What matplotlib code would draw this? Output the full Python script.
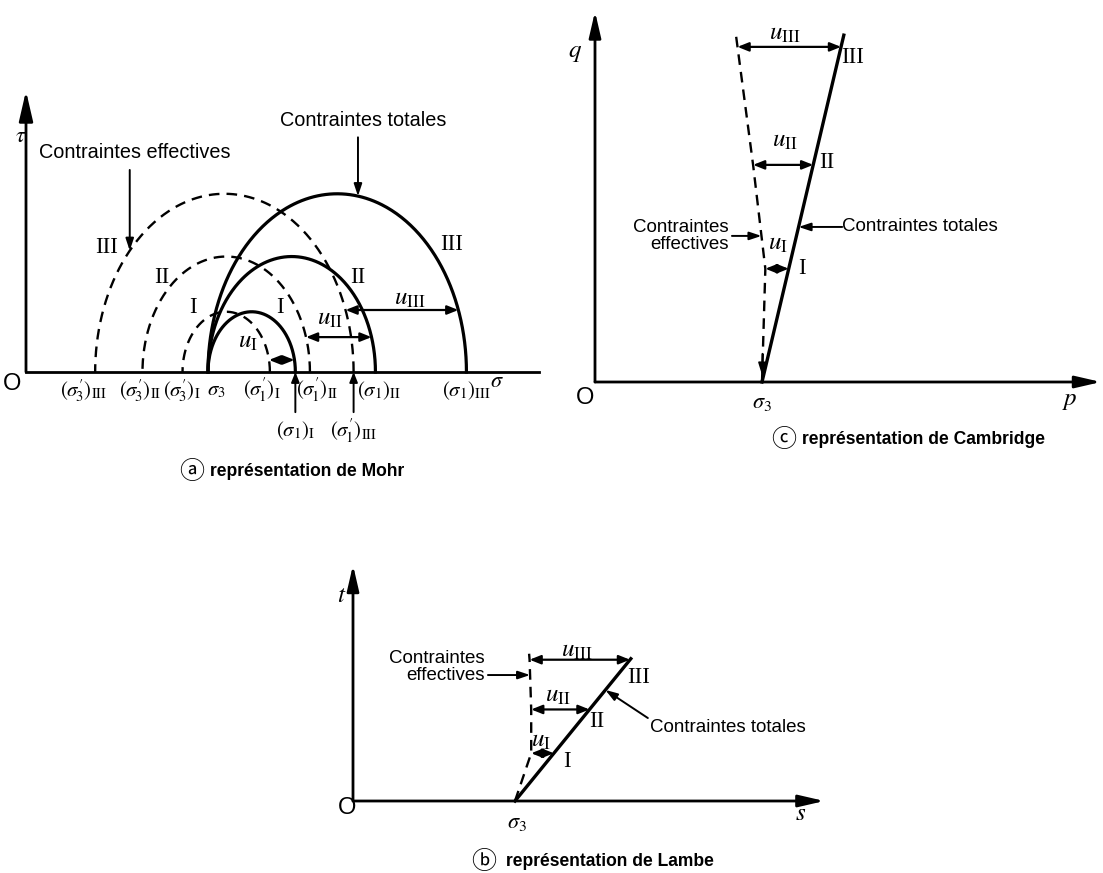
import numpy as np
import matplotlib
matplotlib.use('Agg')
import matplotlib.pyplot as plt
from matplotlib import font_manager

# essais non draines I, II, III (unites arbitraires)
essais = ['I', 'II', 'III']
sigma3 = 100.0
sigma1 = np.array([148.0, 192.0, 242.0])
u = np.array([14.0, 36.0, 62.0])
u_tex = [r'$u_{\rm I}$', r'$u_{\rm II}$', r'$u_{\rm III}$']

# representations de Cambridge (p, q) et de Lambe (s, t)
q = sigma1 - sigma3
p = sigma3 + q / 3
s = (sigma1 + sigma3) / 2
t = (sigma1 - sigma3) / 2

W, H = 1103, 873
fig = plt.figure(figsize=(W / 100, H / 100), dpi=100)

names = {f.name for f in font_manager.fontManager.ttflist}
if 'Liberation Sans Narrow' in names:
    SANS, k = 'Liberation Sans Narrow', 1.0
else:
    SANS, k = 'Liberation Sans', 0.87
SERIF = 'Liberation Serif'
plt.rcParams['mathtext.fontset'] = 'stix'
plt.rcParams['font.family'] = [SANS, 'DejaVu Sans']


def panel(box, origin, scale):
    x0, y0, x1, y1 = box
    ox, oy = origin
    sx, sy = scale
    ax = fig.add_axes([x0 / W, 1 - y1 / H, (x1 - x0) / W, (y1 - y0) / H])
    ax.set_xlim((x0 - ox) / sx, (x1 - ox) / sx)
    ax.set_ylim((oy - y1) / sy, (oy - y0) / sy)
    ax.axis('off')
    return ax


def arrow(ax, a, b, style='-|>', lw=1.5, ms=12):
    ax.annotate('', xy=b, xytext=a, annotation_clip=False,
                arrowprops=dict(arrowstyle=style, lw=lw, color='k',
                                shrinkA=0, shrinkB=0, mutation_scale=ms))


def txt(ax, x, y, s_, size=14, **kw):
    kw.setdefault('ha', 'center')
    kw.setdefault('va', 'center')
    ax.text(x, y, s_, fontsize=size, clip_on=False, **kw)


AXIS = '-|>,head_length=1.3,head_width=0.3'
UARR = '<|-|>,head_length=0.55,head_width=0.22'
SMALL = '-|>,head_length=0.6,head_width=0.2'
th = np.linspace(0, np.pi, 300)

# ---------------- (a) Mohr ----------------
ax = panel((0, 70, 545, 495), (26, 372), (1.82, 2.51))
ax.plot([0, 282], [0, 0], 'k', lw=2)
arrow(ax, (0, 0), (0, 112), AXIS, lw=2, ms=14)

for i in range(3):
    c, r = (sigma1[i] + sigma3) / 2, (sigma1[i] - sigma3) / 2
    ax.plot(c + r * np.cos(th), r * np.sin(th), 'k', lw=2.3)
    ax.plot(c - u[i] + r * np.cos(th), r * np.sin(th), 'k', lw=1.7,
            ls=(0, (4.5, 3)))

# fleches u
hts = [4.8, 13.9, 24.7]
for i in range(3):
    c, r = (sigma1[i] + sigma3) / 2, (sigma1[i] - sigma3) / 2
    xt = c + np.sqrt(r ** 2 - hts[i] ** 2)
    arrow(ax, (xt - u[i], hts[i]), (xt, hts[i]), UARR, lw=1.6, ms=12)
txt(ax, 122, 12.5, u_tex[0], 18)
txt(ax, 167, 21.5, u_tex[1], 18)
txt(ax, 211, 29.5, u_tex[2], 18)

# chiffres romains
for (x, y), lab in zip([(91.8, 25.5), (74.7, 37.8), (44.5, 49.8)], essais):
    txt(ax, x, y, lab, 16.5, family=SERIF)
for (x, y), lab in zip([(139.6, 25.5), (182.4, 37.8), (234, 50.6)], essais):
    txt(ax, x, y, lab, 16.5, family=SERIF)

# etiquettes de l'axe
eff3 = sigma3 - u
eff1 = sigma1 - u
row1 = [(eff3[2] - 6.5, r"$(\sigma^{\prime}_{\!3})_{\rm III}$"),
        (eff3[1] - 1.2, r"$(\sigma^{\prime}_{\!3})_{\rm II}$"),
        (eff3[0] - 0.5, r"$(\sigma^{\prime}_{\!3})_{\rm I}$"),
        (sigma3 + 4.3, r"$\sigma_3$"),
        (eff1[0] - 4.3, r"$(\sigma^{\prime}_{\!1})_{\rm I}$"),
        (eff1[1] + 4, r"$(\sigma^{\prime}_{\!1})_{\rm II}$"),
        (sigma1[1] + 2, r"$(\sigma_1)_{\rm II}$"),
        (sigma1[2] + 0.3, r"$(\sigma_1)_{\rm III}$")]
for x, lab in row1:
    txt(ax, x, -7.5, lab, 15)
for x, lab in [(sigma1[0], r"$(\sigma_1)_{\rm I}$"),
               (eff1[2], r"$(\sigma^{\prime}_{\!1})_{\rm III}$")]:
    arrow(ax, (x, -16), (x, 0), '-|>,head_length=0.5,head_width=0.2', lw=1.4)
    txt(ax, x, -23.5, lab, 15)

txt(ax, -7.5, -4.8, 'O', 17)
txt(ax, -3, 94, r'$\tau$', 16)
txt(ax, 258.8, -3.6, r'$\sigma$', 16)

# renvois
txt(ax, 59.9, 87.6, 'Contraintes effectives', 16.5 * k)
c, r = (eff3[2] + eff1[2]) / 2, (sigma1[2] - sigma3) / 2
xa = 57
arrow(ax, (xa, 80.5), (xa, np.sqrt(r ** 2 - (xa - c) ** 2)), SMALL, lw=1.4)
txt(ax, 185, 100, 'Contraintes totales', 16.5 * k)
c = (sigma1[2] + sigma3) / 2
xa = 182.4
arrow(ax, (xa, 93.5), (xa, np.sqrt(r ** 2 - (xa - c) ** 2)), SMALL, lw=1.4)

# ---------------- (c) Cambridge ----------------
ax = panel((560, 0, 1103, 460), (595, 382), (1.67, 2.36))
arrow(ax, (0, 0), (303, 0), AXIS, lw=2, ms=12)
arrow(ax, (0, 0), (0, 157), AXIS, lw=2, ms=12)

ext = 1.035
ax.plot([sigma3, sigma3 + (p[2] - sigma3) * ext], [0, q[2] * ext], 'k', lw=2.4)
pe = np.r_[sigma3, p - u]
qe = np.r_[0, q]
pe = np.r_[pe, pe[-1] + (pe[-1] - pe[-2]) * 0.12]
qe = np.r_[qe, qe[-1] + (qe[-1] - qe[-2]) * 0.12]
ax.plot(pe, qe, 'k', lw=1.7, ls=(0, (4.5, 3)))
arrow(ax, (pe[0] + 0.3, 12), (pe[0], 3), SMALL, lw=1.2)

for i in range(3):
    arrow(ax, (p[i] - u[i], q[i]), (p[i], q[i]), UARR, lw=1.6, ms=12)
txt(ax, 109.6, 59, u_tex[0], 18)
txt(ax, 113.8, 102.5, u_tex[1], 18)
txt(ax, 113.8, 148, u_tex[2], 18)
for (x, y), lab in zip([(124, 48.3), (139, 92.8), (154.5, 137.3)], essais):
    txt(ax, x, y, lab, 16.5, family=SERIF)

txt(ax, -6, -6.8, 'O', 17)
txt(ax, -12, 139.8, r'$q$', 18)
txt(ax, sigma3, -8.5, r'$\sigma_3$', 16)
txt(ax, 284.4, -7.6, r'$p$', 18)

qa = 61.9
txt(ax, 80, qa, 'Contraintes\neffectives', 15.5 * k, ha='right', linespacing=1.0)
arrow(ax, (82, qa), (np.interp(qa, qe[:-1], pe[:-1]), qa), SMALL, lw=1.4)
qa = 65.7
txt(ax, 148, qa, 'Contraintes totales', 15.5 * k, ha='left')
arrow(ax, (148, qa), (sigma3 + qa / 3, qa), SMALL, lw=1.4)

# ---------------- (b) Lambe ----------------
ax = panel((320, 555, 900, 873), (353, 801), (1.62, 1.99))
arrow(ax, (0, 0), (291, 0), AXIS, lw=2, ms=12)
arrow(ax, (0, 0), (0, 118.6), AXIS, lw=2, ms=12)

ax.plot([sigma3, s[2] + 0.5], [0, t[2] + 0.5], 'k', lw=2.4)
se = np.r_[sigma3, s - u]
te = np.r_[0, t]
se = np.r_[se, se[-1] - 0.3]
te = np.r_[te, te[-1] + 3]
ax.plot(se, te, 'k', lw=1.7, ls=(0, (4.5, 3)))

for i in range(3):
    arrow(ax, (s[i] - u[i], t[i]), (s[i], t[i]), UARR, lw=1.6, ms=12)
txt(ax, 116, 30.5, u_tex[0], 18)
txt(ax, 126.5, 53.3, u_tex[1], 18)
txt(ax, 138, 76, u_tex[2], 18)
for (x, y), lab in zip([(132, 19.6), (150.6, 39.7), (176, 62.3)], essais):
    txt(ax, x, y, lab, 16.5, family=SERIF)

txt(ax, -3.7, -3.5, 'O', 17)
txt(ax, -6.8, 103.5, r'$t$', 18)
txt(ax, 101, -11, r'$\sigma_3$', 16)
txt(ax, 276, -6, r'$s$', 18)

ta = 63.3
txt(ax, 81.5, 67.3, 'Contraintes\neffectives', 15.5 * k, ha='right', linespacing=1.0)
arrow(ax, (83.3, ta), (np.interp(ta, te, se), ta), SMALL, lw=1.4)
txt(ax, 183.3, 36.7, 'Contraintes totales', 15.5 * k, ha='left')
ta = 55.8
arrow(ax, (182, 41.7), (sigma3 + ta, ta), SMALL, lw=1.4)

# ---------------- titres ----------------
for cx, tx, ty, letter, title in [(192, 210, 472, '\u24d0', 'représentation de Mohr'),
                                  (784, 802, 440, '\u24d2', 'représentation de Cambridge'),
                                  (484, 506, 862, '\u24d1', 'représentation de Lambe')]:
    fig.text(cx / W, 1 - ty / H, letter, fontsize=18, ha='center', va='center',
             family=['Noto Sans CJK JP', 'DejaVu Sans'])
    fig.text(tx / W, 1 - ty / H, title, fontsize=14.5 * k, fontweight='bold',
             ha='left', va='center')

fig.savefig('out.png', dpi=100)
